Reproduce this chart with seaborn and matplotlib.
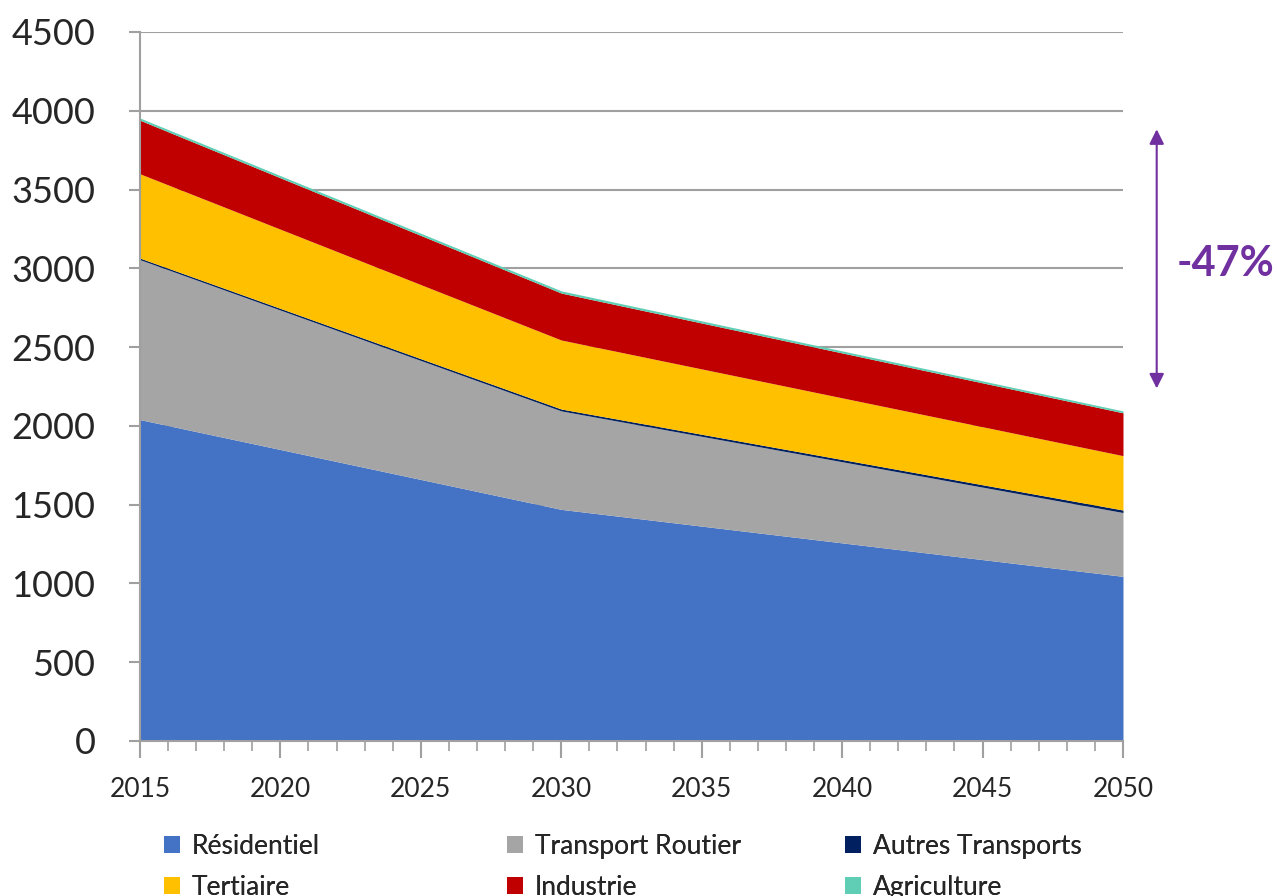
import numpy as np
import pandas as pd
import matplotlib
matplotlib.use("Agg")
import matplotlib.pyplot as plt
import seaborn as sns
from matplotlib.ticker import MultipleLocator

# Données
annees = [2015, 2030, 2050]
residentiel = [2040, 1470, 1045]
transport_routier = [1015, 625, 405]
autres_transports = [10, 12, 16]
tertiaire = [535, 438, 345]
industrie = [340, 298, 272]
agriculture = [14, 14, 12]

series = ["Résidentiel", "Transport Routier", "Autres Transports",
          "Tertiaire", "Industrie", "Agriculture"]
couleurs = ["#4472C4", "#A5A5A5", "#002060", "#FFC000", "#C00000", "#5FCEB4"]

df = pd.DataFrame({
    "annee": annees,
    "Résidentiel": residentiel,
    "Transport Routier": transport_routier,
    "Autres Transports": autres_transports,
    "Tertiaire": tertiaire,
    "Industrie": industrie,
    "Agriculture": agriculture,
})

sns.set_style("white")
plt.rcParams["font.family"] = ["Lato", "DejaVu Sans"]

fig = plt.figure(figsize=(12.77, 8.96), dpi=100)
ax = fig.add_axes([0.1096, 0.173, 0.7698, 0.7913])

polys = ax.stackplot(df["annee"], [df[s] for s in series],
                     colors=couleurs, labels=series, linewidth=0, zorder=2)

ax.set_xlim(2015, 2050)
ax.set_ylim(0, 4500)
ax.yaxis.set_major_locator(MultipleLocator(500))
ax.xaxis.set_major_locator(MultipleLocator(5))
ax.xaxis.set_minor_locator(MultipleLocator(1))
ax.grid(axis="y", color="#A0A0A0", linewidth=1.5, zorder=0)
ax.set_axisbelow(True)

for side in ["top", "right"]:
    ax.spines[side].set_visible(False)
for side in ["left", "bottom"]:
    ax.spines[side].set_color("#A0A0A0")
    ax.spines[side].set_linewidth(1.5)

ax.tick_params(axis="y", which="major", labelsize=26, length=8,
               color="#A0A0A0", width=1.5, left=True, pad=24)
ax.tick_params(axis="x", which="major", labelsize=19, length=12,
               color="#A0A0A0", width=1.5, bottom=True, pad=14)
ax.tick_params(axis="x", which="minor", length=7,
               color="#A0A0A0", width=1.2, bottom=True)

# Flèche -47 %
ax.annotate("", xy=(2051.2, 3900), xytext=(2051.2, 2220),
            arrowprops=dict(arrowstyle="<|-|>", color="#7030A0", lw=1.5,
                            mutation_scale=22),
            annotation_clip=False)
ax.text(2051.9, 3030, "-47%", color="#7030A0", fontsize=30,
        fontweight="bold", va="center", ha="left", clip_on=False)

# Légende : trois colonnes de largeur égale
handles, labels = ax.get_legend_handles_labels()
colonnes = [[0, 3], [1, 4], [2, 5]]
x_cols = [164 / 1277, 507 / 1277, 845 / 1277]
for x0, idx in zip(x_cols, colonnes):
    leg = fig.legend([handles[i] for i in idx], [labels[i] for i in idx],
                     loc="upper left", bbox_to_anchor=(x0, 0.069),
                     frameon=False, fontsize=19, handlelength=0.6,
                     handleheight=0.6, handletextpad=0.45,
                     labelspacing=0.6, borderpad=0, borderaxespad=0)
    fig.add_artist(leg)

fig.savefig("out.png", dpi=100)
